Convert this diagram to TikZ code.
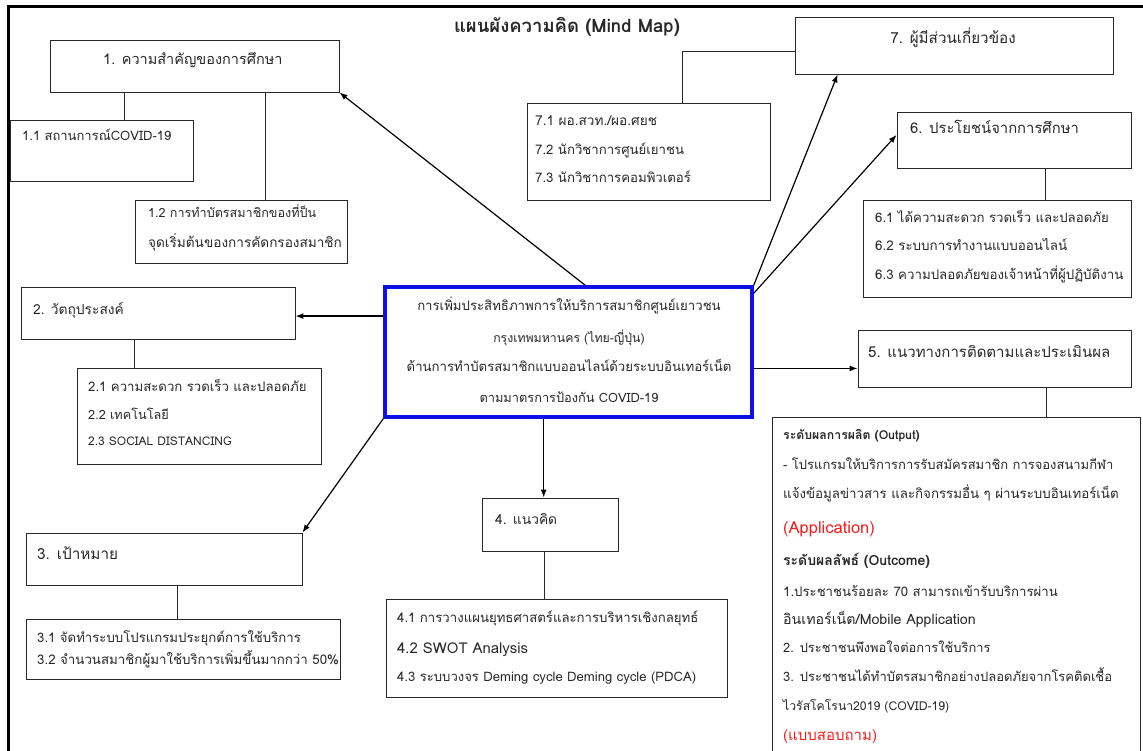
\documentclass[tikz,border=0pt]{standalone}
\usepackage{fontspec}
\setmainfont{Loma}[Script=Thai]
\usetikzlibrary{arrows.meta,calc,fit}
\definecolor{ink}{RGB}{40,40,40}
\definecolor{redtxt}{RGB}{240,30,30}
\definecolor{bluebox}{RGB}{15,15,235}
\newcommand\mkbox[5]{\path (#2,#3) coordinate (#1a) (#4,#5) coordinate (#1b);
  \node[boxst, fit=(#1a)(#1b)] (#1) {};}
\newcommand\fs[1]{\fontsize{#1}{#1}\selectfont}
\tikzset{
  boxst/.style={draw=ink, line width=0.9pt, inner sep=0pt},
  txt/.style={anchor=mid west, inner sep=0pt, text=ink, font=\fs{13.2}},
  head/.style={anchor=mid west, inner sep=0pt, text=ink, font=\fs{14.8}},
  arr/.style={-{Latex[length=8pt,width=6pt]}, line width=1.2pt, draw=black},
  link/.style={line width=0.9pt, draw=ink},
}
\begin{document}
\begin{tikzpicture}[x=1pt,y=-1pt]
\useasboundingbox (0,0) rectangle (1143,751);
\draw[line width=3pt] (8,770) -- (8,7) -- (1160,7);
\node[font=\bfseries\fs{18.5}, text=ink, inner sep=0pt] (title) at (567,27) {แผนผังความคิด (Mind Map)};
% boxes
\mkbox{b1}{50}{40}{339}{92}
\mkbox{b11}{10}{120}{193}{181}
\mkbox{b12}{135}{200}{347}{263}
\mkbox{b2}{21}{287}{295}{339}
\mkbox{b21}{77}{368}{321}{464}
\mkbox{b3}{26}{533}{302}{585}
\mkbox{b31}{26}{619}{340}{679}
\mkbox{b4}{482}{498}{618}{551}
\mkbox{b41}{386}{599}{727}{697}
\mkbox{b5}{858}{330}{1131}{387}
\mkbox{b51}{772}{417}{1140}{780}
\mkbox{b6}{897}{112}{1131}{168}
\mkbox{b6x}{863}{200}{1131}{297}
\mkbox{b7}{795}{17}{1113}{74}
\mkbox{b71}{527}{103}{770}{200}
\path (385,287) coordinate (ca) (752,417) coordinate (cb);
\node[draw=bluebox, line width=3.5pt, inner sep=0pt, fit=(ca)(cb)] (C) {};
% center text
\node[txt, anchor=mid] (c1) at (569,308) {การเพิ่มประสิทธิภาพการให้บริการสมาชิกศูนย์เยาวชน};
\node[txt, anchor=mid, font=\fs{12.3}] (c2) at (569,340) {กรุงเทพมหานคร (ไทย-ญี่ปุ่น)};
\node[txt, anchor=mid] (c3) at (569,369) {ด้านการทำบัตรสมาชิกแบบออนไลน์ด้วยระบบอินเทอร์เน็ต};
\node[txt, anchor=mid, font=\fs{12.8}] (c4) at (569,400) {ตามมาตรการป้องกัน COVID-19};
% box texts
\node[head, font=\fs{14.5}] (t1) at (103,62) {1. ความสำคัญของการศึกษา};
\node[txt, font=\fs{13}] (t11) at (22,138) {1.1 สถานการณ์COVID-19};
\node[txt, font=\fs{12.6}] (t12a) at (148,215) {1.2 การทำบัตรสมาชิกของที่ป็น};
\node[txt, font=\fs{13.6}] (t12b) at (148,245) {จุดเริ่มต้นของการคัดกรองสมาชิก};
\node[head, font=\fs{13.8}] (t2) at (33,312) {2. วัตถุประสงค์};
\node[txt] (t21) at (88,389) {2.1 ความสะดวก รวดเร็ว และปลอดภัย};
\node[txt, font=\fs{12.7}] (t22) at (88,417) {2.2 เทคโนโลยี};
\node[txt, font=\fs{12}] (t23) at (88,443) {2.3 SOCIAL DISTANCING};
\node[head, font=\fs{15.3}] (t3) at (37,557) {3. เป้าหมาย};
\node[txt] (t31) at (37,640) {3.1 จัดทำระบบโปรแกรมประยุกต์การใช้บริการ};
\node[txt, font=\fs{13.3}] (t32) at (37,662) {3.2 จำนวนสมาชิกผู้มาใช้บริการเพิ่มขึ้นมากกว่า 50\%};
\node[head, font=\fs{13.8}] (t4) at (495,522) {4. แนวคิด};
\node[txt] (t41) at (397,620) {4.1 การวางแผนยุทธศาสตร์และการบริหารเชิงกลยุทธ์};
\node[txt, font=\fs{14.9}] (t42) at (397,651) {4.2 SWOT Analysis};
\node[txt, font=\fs{13.1}] (t43) at (397,679) {4.3 ระบบวงจร Deming cycle Deming cycle (PDCA)};
\node[head, font=\fs{15}] (t5) at (868,355) {5. แนวทางการติดตามและประเมินผล};
\node[txt, font=\bfseries\fs{12.3}] (t51) at (783,437) {ระดับผลการผลิต (Output)};
\node[txt, font=\fs{13}] (t52) at (783,467) {- โปรแกรมให้บริการการรับสมัครสมาชิก การจองสนามกีฬา};
\node[txt, font=\fs{13.3}] (t53) at (783,496) {แจ้งข้อมูลข่าวสาร และกิจกรรมอื่น ๆ ผ่านระบบอินเทอร์เน็ต};
\node[txt, text=redtxt, font=\fs{16.5}] (t54) at (783,531) {(Application)};
\node[txt, font=\bfseries\fs{14}] (t55) at (783,563) {ระดับผลลัพธ์ (Outcome)};
\node[txt, font=\fs{13.2}] (t56) at (783,594) {1.ประชาชนร้อยละ 70 สามารถเข้ารับบริการผ่าน};
\node[txt, font=\fs{14.2}] (t57) at (783,622) {อินเทอร์เน็ต/Mobile Application};
\node[txt, font=\fs{12.9}] (t58) at (783,650) {2. ประชาชนพึงพอใจต่อการใช้บริการ};
\node[txt, font=\fs{13}] (t59) at (783,679) {3. ประชาชนได้ทำบัตรสมาชิกอย่างปลอดภัยจากโรคติดเชื้อ};
\node[txt, font=\fs{12.2}] (t510) at (783,708) {ไวรัสโคโรนา2019 (COVID-19)};
\node[txt, text=redtxt, font=\fs{15}] (t511) at (783,738) {(แบบสอบถาม)};
\node[head, font=\fs{14.8}] (t6) at (910,131) {6. ประโยชน์จากการศึกษา};
\node[txt] (t61) at (875,220) {6.1 ได้ความสะดวก รวดเร็ว และปลอดภัย};
\node[txt, font=\fs{13.4}] (t62) at (875,248) {6.2 ระบบการทำงานแบบออนไลน์};
\node[txt, font=\fs{13.3}] (t63) at (875,277) {6.3 ความปลอดภัยของเจ้าหน้าที่ผู้ปฏิบัติงาน};
\node[head, anchor=mid, font=\fs{15.2}] (t7) at (953,41) {7. ผู้มีส่วนเกี่ยวข้อง};
\node[txt, font=\fs{13.6}] (t71) at (535,123) {7.1 ผอ.สวท./ผอ.ศยช};
\node[txt] (t72) at (535,152) {7.2 นักวิชาการศูนย์เยาชน};
\node[txt] (t73) at (535,180) {7.3 นักวิชาการคอมพิวเตอร์};
% tree links
\draw[link] ($(b1.south west)!0.26!(b1.south east)$) coordinate (l11) -- (l11 |- b11.north);
\draw[link] ($(b1.south west)!0.744!(b1.south east)$) coordinate (l12) -- (l12 |- b12.north);
\draw[link] ($(b2.south west)!0.416!(b2.south east)$) coordinate (l21) -- (l21 |- b21.north);
\draw[link] ($(b3.south west)!0.547!(b3.south east)$) coordinate (l31) -- (l31 |- b31.north);
\draw[link] ($(b4.south west)!0.456!(b4.south east)$) coordinate (l41) -- (l41 |- b41.north);
\draw[link] ($(b5.south west)!0.689!(b5.south east)$) coordinate (l51) -- (l51 |- b51.north);
\draw[link] ($(b6.south west)!0.632!(b6.south east)$) coordinate (l61) -- (l61 |- b6x.north);
\draw[link] ($(b7.north west)!0.6!(b7.south west)$) -| ($(b71.north west)!0.638!(b71.north east)$);
% arrows
\draw[arr] ($(C.north west)!0.545!(C.north east)$) -- (b1.south east);
\draw[arr] ($(C.north west)!0.231!(C.south west)$) coordinate (a2) -- (a2 -| b2.east);
\draw[arr] (C.south west) -- (b3.north east);
\draw[arr] ($(C.south west)!0.433!(C.south east)$) coordinate (a4) -- (a4 |- b4.north);
\draw[arr] ($(C.north east)!0.623!(C.south east)$) coordinate (a5) -- (a5 -| b5.west);
\draw[arr] (C.north east) -- ($(b7.south west)!0.135!(b7.south east)$);
\draw[arr] ($(C.north east)!0.06!(C.south east)$) -- ($(b6.north west)!0.41!(b6.south west)$);
\end{tikzpicture}
\end{document}
